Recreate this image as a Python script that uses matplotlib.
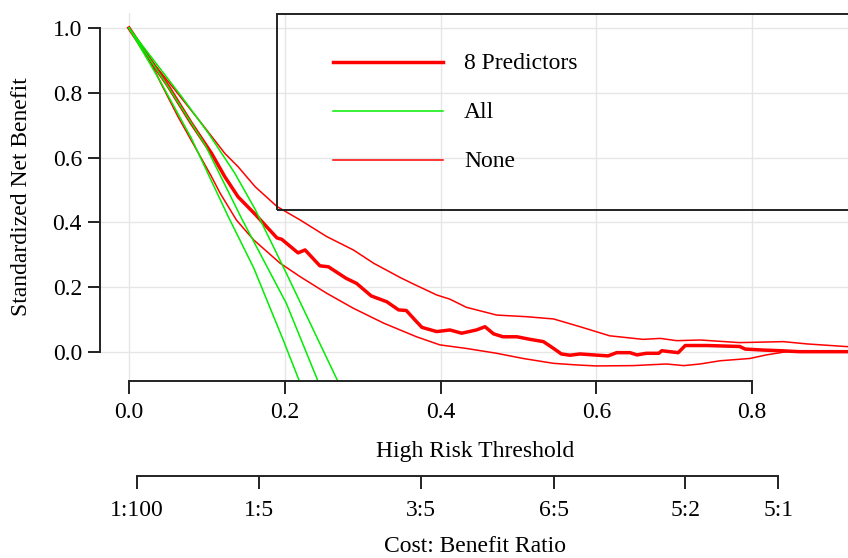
import matplotlib
matplotlib.use("Agg")
import matplotlib.pyplot as plt
from matplotlib.patches import Rectangle
from matplotlib.lines import Line2D

plt.rcParams['font.family'] = ['Liberation Serif', 'DejaVu Serif']

# 8 predictors model: standardized net benefit and CI
model_x = [0.0, 0.025, 0.0505, 0.080, 0.106, 0.123, 0.140, 0.162, 0.19, 0.196, 0.217, 0.226,
           0.245, 0.256, 0.279, 0.292, 0.311, 0.331, 0.346, 0.356, 0.367, 0.376, 0.395,
           0.412, 0.427, 0.446, 0.457, 0.468, 0.480, 0.498, 0.515, 0.532, 0.545, 0.555,
           0.566, 0.579, 0.596, 0.615, 0.626, 0.643, 0.652, 0.664, 0.680, 0.684, 0.694,
           0.705, 0.714, 0.742, 0.784, 0.791, 0.814, 0.836, 0.861, 0.95]
model_y = [1.0, 0.91, 0.820, 0.706, 0.613, 0.541, 0.479, 0.425, 0.352, 0.348, 0.306, 0.315,
           0.266, 0.263, 0.227, 0.212, 0.173, 0.155, 0.130, 0.128, 0.099, 0.076, 0.063,
           0.068, 0.058, 0.068, 0.078, 0.056, 0.047, 0.047, 0.039, 0.032, 0.011, -0.006,
           -0.010, -0.006, -0.009, -0.012, -0.002, -0.002, -0.009, -0.004, -0.004, 0.004, 0.001,
           -0.002, 0.020, 0.020, 0.017, 0.009, 0.006, 0.004, 0.001, 0.001]

upper_x = [0.0, 0.025, 0.059, 0.093, 0.123, 0.140, 0.162, 0.19, 0.220, 0.254, 0.288, 0.314,
           0.348, 0.365, 0.395, 0.412, 0.433, 0.472, 0.510, 0.545, 0.579, 0.617, 0.660, 0.682,
           0.703, 0.733, 0.784, 0.840, 0.870, 0.95]
upper_y = [1.0, 0.91, 0.809, 0.706, 0.613, 0.572, 0.510, 0.449, 0.407, 0.356, 0.315, 0.274,
           0.230, 0.210, 0.176, 0.163, 0.138, 0.114, 0.109, 0.102, 0.078, 0.050, 0.039, 0.042,
           0.035, 0.037, 0.029, 0.032, 0.025, 0.012]

lower_x = [0.0, 0.025, 0.040, 0.063, 0.087, 0.106, 0.117, 0.138, 0.160, 0.194, 0.220, 0.254,
           0.288, 0.327, 0.369, 0.399, 0.433, 0.472, 0.506, 0.545, 0.575, 0.600, 0.647, 0.690,
           0.712, 0.733, 0.759, 0.797, 0.818, 0.844, 0.95]
lower_y = [1.0, 0.91, 0.834, 0.726, 0.623, 0.541, 0.490, 0.407, 0.346, 0.274, 0.232, 0.181,
           0.135, 0.089, 0.047, 0.022, 0.011, -0.004, -0.020, -0.035, -0.040, -0.043, -0.042,
           -0.037, -0.042, -0.037, -0.027, -0.020, -0.009, 0.001, 0.001]

# treat all: estimate and CI
all_lo_x = [0.0, 0.040, 0.080, 0.127, 0.160, 0.198, 0.222]
all_lo_y = [1.0, 0.836, 0.660, 0.420, 0.260, 0.037, -0.11]
all_mid_x = [0.0, 0.050, 0.0976, 0.145, 0.202, 0.246]
all_mid_y = [1.0, 0.820, 0.640, 0.410, 0.150, -0.11]
all_hi_x = [0.0, 0.0676, 0.102, 0.136, 0.162, 0.202, 0.272]
all_hi_y = [1.0, 0.788, 0.675, 0.551, 0.440, 0.243, -0.11]

y_ticks = [0.0, 0.2, 0.4, 0.6, 0.8, 1.0]
x_ticks = [0.0, 0.2, 0.4, 0.6, 0.8]
cost = [1, 1, 3, 6, 5, 5]
benefit = [100, 5, 5, 5, 2, 1]
legend_labels = ['8 Predictors', 'All', 'None']

W, H = 848, 558
FS = 17
fig = plt.figure(figsize=(W / 100, H / 100), dpi=100)
ax = fig.add_axes([100 / W, 1 - 381 / H, 750 / W, 368 / H])

red = '#ff0000'
green = '#00ee00'
ax.plot(upper_x, upper_y, color=red, lw=1.1)
ax.plot(lower_x, lower_y, color=red, lw=1.1)
ax.plot(model_x, model_y, color=red, lw=2.5)
ax.plot(all_lo_x, all_lo_y, color=green, lw=1.1)
ax.plot(all_mid_x, all_mid_y, color=green, lw=1.1)
ax.plot(all_hi_x, all_hi_y, color=green, lw=1.1)

ax.set_xlim(-0.0372, 0.9255)
ax.set_ylim(-0.0895, 1.0463)
ax.set_xticks(x_ticks)
ax.set_yticks(y_ticks)
ax.set_xticklabels(['%.1f' % v for v in x_ticks])
ax.set_yticklabels(['%.1f' % v for v in y_ticks])
ax.grid(True, color='#e6e6e6', lw=1)
ax.set_axisbelow(True)
for s in ['top', 'right']:
    ax.spines[s].set_visible(False)
ax.spines['left'].set_bounds(0, 1)
ax.spines['bottom'].set_bounds(0, 0.8)
for s in ['left', 'bottom']:
    ax.spines[s].set_linewidth(1.4)
    ax.spines[s].set_color('#222222')
ax.tick_params(axis='both', length=9, width=1.4, color='#222222', labelsize=FS)
ax.tick_params(axis='x', pad=6)
ax.tick_params(axis='y', pad=4)
ax.set_xlabel('High Risk Threshold', fontsize=FS)
ax.xaxis.set_label_coords(0.5, -0.162)
ax.set_ylabel('Standardized Net Benefit', fontsize=FS)
ax.yaxis.set_label_coords(-0.0907, 0.5)

# cost:benefit axis
ax2 = fig.add_axes([100 / W, 1 - 476 / H, 750 / W, 10 / H])
ax2.set_xlim(ax.get_xlim())
ratio_pos = [c / (c + b) for c, b in zip(cost, benefit)]
ax2.set_xticks(ratio_pos)
ax2.set_xticklabels(['%d:%d' % (c, b) for c, b in zip(cost, benefit)])
ax2.set_yticks([])
ax2.patch.set_visible(False)
for s in ['top', 'right', 'left']:
    ax2.spines[s].set_visible(False)
ax2.spines['bottom'].set_bounds(ratio_pos[0], ratio_pos[-1])
ax2.spines['bottom'].set_linewidth(1.4)
ax2.spines['bottom'].set_color('#222222')
ax2.tick_params(axis='x', length=9, width=1.4, color='#222222', labelsize=FS, pad=8)
ax2.set_xlabel('Cost: Benefit Ratio', fontsize=FS)
ax2.xaxis.set_label_coords(0.5, -6.05)

# legend box
def fx(px):
    return px / W

def fy(py):
    return 1 - py / H

fig.patches.append(Rectangle((fx(277), fy(210)), fx(580), 196 / H, transform=fig.transFigure,
                             fill=False, lw=1.4, edgecolor='#222222'))
leg_y = [62, 111, 160]
leg_styles = [(red, 2.5), (green, 1.1), (red, 1.1)]
for yy, (c, lw), lab in zip(leg_y, leg_styles, legend_labels):
    fig.lines.append(Line2D([fx(333), fx(443)], [fy(yy), fy(yy)], transform=fig.transFigure,
                            color=c, lw=lw))
    fig.text(fx(464), fy(yy) - 0.003, lab, fontsize=FS, va='center', ha='left')

fig.savefig('out.png', dpi=100)
